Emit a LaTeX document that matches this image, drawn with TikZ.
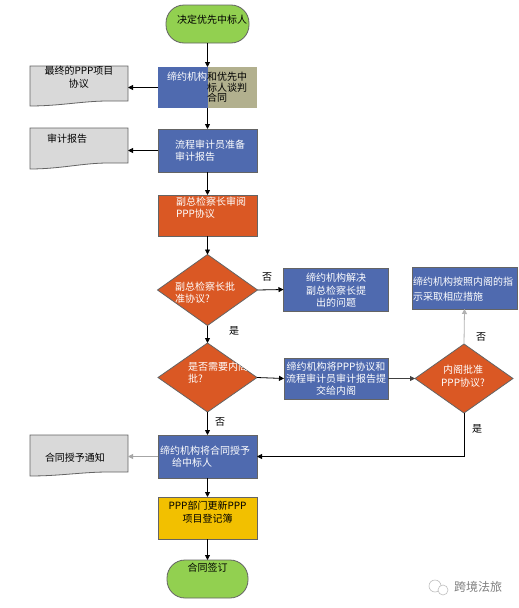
\documentclass[tikz,border=0pt]{standalone}
\usepackage{fontspec}
\setmainfont{Noto Sans CJK SC}
\usetikzlibrary{shapes.geometric,arrows.meta,calc}
\definecolor{cblue}{RGB}{79,106,175}
\definecolor{corange}{RGB}{218,88,36}
\definecolor{ckhaki}{RGB}{178,176,142}
\definecolor{cgreen}{RGB}{146,208,80}
\definecolor{cyellow}{RGB}{242,192,0}
\definecolor{cdoc}{RGB}{217,217,217}
\definecolor{cedge}{RGB}{100,100,100}
\begin{document}
\begin{tikzpicture}[x=1pt,y=-1pt,
  every node/.style={inner sep=0pt,outer sep=0pt},
  txt/.style={font=\fontsize{10}{12}\selectfont},
  wtxt/.style={txt,text=white},
  boxs/.style={draw=cedge,line width=0.8pt,rectangle},
  terms/.style={draw=cedge,line width=0.8pt,fill=cgreen,rounded corners=18pt,rectangle},
  diams/.style={draw=cedge,line width=0.8pt,fill=corange,diamond},
  docs/.style={draw=cedge,line width=0.8pt,fill=cdoc},
  conn/.style={line width=0.8pt,-{Triangle[length=5pt,width=5pt]}},
  lbl/.style={font=\fontsize{10}{12}\selectfont}
]
\useasboundingbox (0,0) rectangle (519,608);
\fill[white] (0,0) rectangle (519,608);

% terminals
\node[terms,minimum width=83pt,minimum height=38pt] (t1) at (207.5,24) {};
\node[txt] (t1t) at (212,20) {决定优先中标人};

% box 2 (two colours)
\node[boxs,draw=none,fill=cblue,minimum width=99pt,minimum height=41pt,
  path picture={\fill[ckhaki] (path picture bounding box.north) rectangle (path picture bounding box.south east);}] (b2) at (207.5,87.5) {};
\node[wtxt,anchor=west] (b2w) at (167,77) {缔约机构};
\node[txt,anchor=west,align=left,font=\fontsize{10}{10.6}\selectfont] (b2k) at (207,87.5) {和优先中\\标人谈判\\合同};

% documents
\node[minimum width=98pt,minimum height=35pt] (doc1) at (79,83.5) {};
\draw[docs] (doc1.north west) -- (doc1.north east) -- (doc1.south east) -- ++(-20,0)
  .. controls +(-25,0) and +(30,0) .. ($(doc1.south west)+(0,5)$) -- cycle;
\node[txt,align=center,font=\fontsize{10}{13}\selectfont] (doc1t) at (79,77.5) {最终的PPP项目\\协议};

\node[minimum width=98pt,minimum height=35pt] (doc2) at (79,145.5) {};
\draw[docs] (doc2.north west) -- (doc2.north east) -- (doc2.south east) -- ++(-20,0)
  .. controls +(-25,0) and +(30,0) .. ($(doc2.south west)+(0,6)$) -- cycle;
\node[txt,anchor=west] (doc2t) at (47,139) {审计报告};

\node[minimum width=98pt,minimum height=37pt] (doc3) at (79,453.5) {};
\draw[docs] (doc3.north west) -- (doc3.north east) -- (doc3.south east) -- ++(-20,0)
  .. controls +(-25,0) and +(30,0) .. ($(doc3.south west)+(0,4)$) -- cycle;
\node[txt,anchor=west] (doc3t) at (45,458) {合同授予通知};

% box 3
\node[boxs,fill=cblue,minimum width=99pt,minimum height=43pt] (b3) at (207.5,150.5) {};
\node[wtxt,anchor=west,align=left] (b3t) at (175,151) {流程审计员准备\\审计报告};

% box 4
\node[boxs,fill=corange,minimum width=99pt,minimum height=41pt] (b4) at (207.5,215.5) {};
\node[wtxt,anchor=west,align=left,font=\fontsize{10}{11.5}\selectfont] (b4t) at (176,207.5) {副总检察长审阅\\PPP协议};

% diamond 1
\node[diams,minimum width=100pt,minimum height=71pt] (d1) at (207.5,290) {};
\node[wtxt,anchor=west,align=left,font=\fontsize{10}{11.5}\selectfont] (d1t) at (175,292.5) {副总检察长批\\准协议?};

% box 5
\node[boxs,fill=cblue,minimum width=105pt,minimum height=43pt] (b5) at (336,289.5) {};
\node[wtxt,align=center,font=\fontsize{10}{12.5}\selectfont] (b5t) at (336,290.5) {缔约机构解决\\副总检察长提\\出的问题};

% diamond 2
\node[diams,minimum width=99pt,minimum height=69pt] (d2) at (207.5,377.5) {};
\begin{scope}
\clip (d2.north) -- (d2.east) -- (d2.south) -- (d2.west) -- cycle;
\node[wtxt,anchor=west,align=left,font=\fontsize{10}{11.5}\selectfont] (d2t) at (188,372.5) {是否需要内阁审\\批?};
\end{scope}

% box 6
\node[boxs,fill=cblue,minimum width=104pt,minimum height=41pt] (b6) at (336,378.5) {};
\node[wtxt,align=center,font=\fontsize{10}{12}\selectfont] (b6t) at (336,379) {缔约机构将PPP协议和\\流程审计员审计报告提\\交给内阁};

% diamond 3
\node[diams,minimum width=98pt,minimum height=69pt] (d3) at (464,378.5) {};
\node[wtxt,align=center,font=\fontsize{10}{13}\selectfont] (d3t) at (463,376.5) {内阁批准\\PPP协议?};

% box 7
\node[boxs,fill=cblue,minimum width=105pt,minimum height=42pt] (b7) at (464.5,288) {};
\node[wtxt,anchor=west,align=left,font=\fontsize{10}{15}\selectfont] (b7t) at (413,289) {缔约机构按照内阁的指\\示采取相应措施};

% box 8
\node[boxs,fill=cblue,minimum width=99pt,minimum height=43pt] (b8) at (207.5,456.5) {};
\node[wtxt,anchor=west,align=left] (b8t) at (160,457) {缔约机构将合同授予\\\hspace*{12pt}给中标人};

% box 9
\node[boxs,fill=cyellow,minimum width=99pt,minimum height=42pt] (b9) at (207.5,518) {};
\node[txt,align=center,font=\fontsize{10}{13}\selectfont] (b9t) at (207.5,512.5) {PPP部门更新PPP\\项目登记簿};

% terminal 2
\node[terms,minimum width=81pt,minimum height=38pt] (t2) at (207.5,579) {};
\node[txt] (t2t) at (207.5,568) {合同签订};

% connectors
\draw[conn] (t1.south) -- (b2.north);
\draw[conn] (b2.west) -- (b2.west -| doc1.east);
\draw[conn] (b2.south) -- (b3.north);
\draw[conn] (b3.west) -- (b3.west -| doc2.east);
\draw[conn] (b3.south) -- (b4.north);
\draw[conn] (b4.south) -- (d1.north);
\draw[conn] (d1.east) -- (b5.west);
\draw[conn] (d1.south) -- (d2.north);
\draw[conn] (d2.east) -- (b6.west);
\draw[conn,draw=black!75] (b6.east) -- (d3.west);
\draw[conn,draw=black!30] (d3.north) -- (b7.south);
\draw[conn] (d3.south) |- (b8.east);
\draw[conn] (d2.south) -- (b8.north);
\draw[conn,draw=black!35] (b8.west) -- (b8.west -| doc3.east);
\draw[conn] (b8.south) -- (b9.north);
\draw[conn] (b9.south) -- (t2.north);

% labels
\node[lbl] (l1) at (267,277) {否};
\node[lbl] (l2) at (234,331) {是};
\node[lbl] (l3) at (220,422) {否};
\node[lbl] (l4) at (481,337) {否};
\node[lbl] (l5) at (477,429) {是};

% watermark
\draw[black!25,line width=0.6pt] (435,586) circle (6pt);
\draw[black!25,line width=0.6pt,fill=white] (443,590) circle (5pt);
\node[font=\fontsize{12}{14}\selectfont,text=black!50,anchor=west] (wm) at (454,587) {跨境法旅};
\end{tikzpicture}
\end{document}
